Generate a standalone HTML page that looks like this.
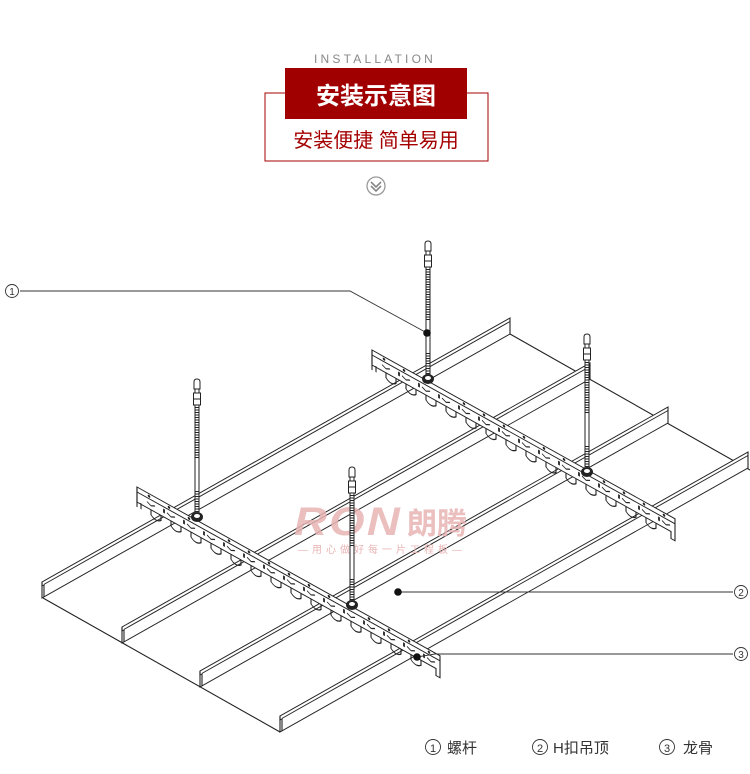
<!DOCTYPE html>
<html><head><meta charset="utf-8"><style>
html,body{margin:0;padding:0;background:#fff;}
body{width:750px;height:774px;overflow:hidden;position:relative;font-family:"Liberation Sans","Noto Sans CJK SC",sans-serif;}
</style></head><body>
<svg width="750" height="774" viewBox="0 0 750 774" xmlns="http://www.w3.org/2000/svg" style="position:absolute;left:0;top:0">
<defs>
<g id="rib" fill="#fff" stroke="#222" stroke-width="1.1">
<polygon points="0,0 468,0 468,16 0,16"/>
<line x1="2" y1="3.5" x2="468" y2="3.5"/>
<polyline points="0,0 0,4 2,4 2,16" fill="none"/>
</g>
<g id="carrier" fill="#fff" stroke="#222" stroke-width="1.1">
<path d="M0,0 L303,0 L303,22 L299,22 L299,15 L0,15 Z"/>
<line x1="0" y1="5" x2="303" y2="5"/>
<path d="M0,0 L0,20 M4,20 L4,14" fill="none"/>
<g fill="none">
<path d="M14,15 v5 q5,5 10,0 v-5"/><path d="M34,15 v5 q5,5 10,0 v-5"/><path d="M54,15 v5 q5,5 10,0 v-5"/><path d="M74,15 v5 q5,5 10,0 v-5"/><path d="M94,15 v5 q5,5 10,0 v-5"/><path d="M114,15 v5 q5,5 10,0 v-5"/><path d="M134,15 v5 q5,5 10,0 v-5"/><path d="M154,15 v5 q5,5 10,0 v-5"/><path d="M174,15 v5 q5,5 10,0 v-5"/><path d="M194,15 v5 q5,5 10,0 v-5"/><path d="M214,15 v5 q5,5 10,0 v-5"/><path d="M234,15 v5 q5,5 10,0 v-5"/><path d="M254,15 v5 q5,5 10,0 v-5"/><path d="M274,15 v5 q5,5 10,0 v-5"/>
<path d="M10,9 l4,2 l4,-2 M30,9 l4,2 l4,-2 M50,9 l4,2 l4,-2 M70,9 l4,2 l4,-2 M90,9 l4,2 l4,-2 M110,9 l4,2 l4,-2 M130,9 l4,2 l4,-2 M150,9 l4,2 l4,-2 M170,9 l4,2 l4,-2 M190,9 l4,2 l4,-2 M210,9 l4,2 l4,-2 M230,9 l4,2 l4,-2 M250,9 l4,2 l4,-2 M270,9 l4,2 l4,-2 M290,9 l4,2 l4,-2"/>
<path d="M27,7 v4 M47,7 v4 M67,7 v4 M87,7 v4 M107,7 v4 M127,7 v4 M147,7 v4 M167,7 v4 M187,7 v4 M207,7 v4 M227,7 v4 M247,7 v4 M267,7 v4 M287,7 v4" stroke-width="1.8"/>
</g>
<g fill="#222" stroke="none">
<circle cx="12" cy="2.5" r="1.3"/><circle cx="32" cy="2.5" r="1.3"/><circle cx="52" cy="2.5" r="1.3"/><circle cx="92" cy="2.5" r="1.3"/><circle cx="112" cy="2.5" r="1.3"/><circle cx="132" cy="2.5" r="1.3"/><circle cx="152" cy="2.5" r="1.3"/><circle cx="172" cy="2.5" r="1.3"/><circle cx="192" cy="2.5" r="1.3"/><circle cx="232" cy="2.5" r="1.3"/><circle cx="252" cy="2.5" r="1.3"/><circle cx="272" cy="2.5" r="1.3"/><circle cx="292" cy="2.5" r="1.3"/>
</g>
</g>
<g id="rod" stroke="#222" stroke-width="1" fill="#fff">
<path d="M-3,10 L-3,3 Q-3,0 0,0 Q3,0 3,3 L3,10 Z"/>
<rect x="-2" y="10" width="4" height="4"/>
<rect x="-3.5" y="14" width="7" height="12"/>
<line x1="-3.5" y1="20" x2="3.5" y2="20"/>
<rect x="-2" y="26" width="4" height="110"/>
<line x1="0" y1="28" x2="0" y2="80" stroke-dasharray="1 1.5" stroke-width="3"/>
<line x1="0" y1="112" x2="0" y2="134" stroke-dasharray="1 1.5" stroke-width="3"/>
<ellipse cx="0" cy="138" rx="5.5" ry="4.5" fill="#222"/>
<ellipse cx="0" cy="137" rx="3" ry="2" fill="#fff" stroke="none"/>
</g>
</defs>

<text x="375" y="63" text-anchor="middle" font-family="Liberation Sans, sans-serif" font-size="12" letter-spacing="3.2" fill="#888">INSTALLATION</text>
<polyline points="285,93 265,93 265,161 488,161 488,93 467,93" fill="none" stroke="#a40000" stroke-width="1"/>
<rect x="285" y="68" width="182" height="51" fill="#a10000"/>
<text x="376" y="104" text-anchor="middle" font-family="Liberation Sans, Noto Sans CJK SC, sans-serif" font-size="24" font-weight="bold" fill="#fff">安装示意图</text>
<text x="376" y="147" text-anchor="middle" font-family="Liberation Sans, Noto Sans CJK SC, sans-serif" font-size="20" fill="#a40000">安装便捷 简单易用</text>
<circle cx="376" cy="186" r="9" fill="#fff" stroke="#999" stroke-width="1.3"/>
<path d="M371,182 l5,5 l5,-5 M371,186 l5,5 l5,-5" fill="none" stroke="#888" stroke-width="1.6"/>

<g stroke="#222" stroke-width="1.1" fill="none">
<line x1="43" y1="598" x2="280" y2="732"/>
<line x1="510" y1="334" x2="750" y2="470"/>
</g>
<use href="#rib" transform="matrix(1,-0.5641,0,1,42,582)"/>
<use href="#rib" transform="matrix(1,-0.5641,0,1,122,627)"/>
<use href="#rib" transform="matrix(1,-0.5641,0,1,200,671)"/>
<use href="#rib" transform="matrix(1,-0.5641,0,1,280,716)"/>

<text x="294" y="535" font-family="Liberation Sans, sans-serif" font-size="40" font-weight="bold" font-style="italic" letter-spacing="2" fill="#e9b5b5" opacity="0.85" textLength="108" lengthAdjust="spacingAndGlyphs">RON</text>
<text x="407" y="534" font-family="Liberation Sans, Noto Sans CJK SC, sans-serif" font-size="30" font-weight="bold" fill="#e9b5b5" opacity="0.85">朗腾</text>
<text x="298" y="553" font-family="Liberation Sans, Noto Sans CJK SC, sans-serif" font-size="10" letter-spacing="4" fill="#e9b5b5">—用心做好每一片工程板—</text>

<use href="#carrier" transform="matrix(1,0.557,0,1,372,350)"/>
<use href="#carrier" transform="matrix(1,0.557,0,1,137,487)"/>

<use href="#rod" transform="translate(428,241)"/>
<use href="#rod" transform="translate(587,334)"/>
<use href="#rod" transform="translate(197,379)"/>
<use href="#rod" transform="translate(352,467)"/>

<g stroke="#333" stroke-width="0.9" fill="none">
<polyline points="20,291 350,291 427,333"/>
<line x1="398" y1="592" x2="733" y2="592"/>
<polyline points="417,657 435,654 733,654"/>
</g>
<circle cx="427" cy="333" r="3.8" fill="#111"/>
<circle cx="398" cy="592" r="3.8" fill="#111"/>
<circle cx="417" cy="657" r="3.8" fill="#111"/>
<g font-family="Liberation Sans, Noto Sans CJK SC, sans-serif" fill="#333">
<circle cx="12" cy="291" r="6.5" fill="none" stroke="#333" stroke-width="0.9"/><text x="12" y="295" font-size="10" text-anchor="middle">1</text>
<circle cx="741" cy="592" r="6.5" fill="none" stroke="#333" stroke-width="0.9"/><text x="741" y="596" font-size="10" text-anchor="middle">2</text>
<circle cx="741" cy="654" r="6.5" fill="none" stroke="#333" stroke-width="0.9"/><text x="741" y="658" font-size="10" text-anchor="middle">3</text>
</g>

<g font-family="Liberation Sans, Noto Sans CJK SC, sans-serif" font-size="15" fill="#333">
<circle cx="433" cy="747" r="7.5" fill="none" stroke="#333" stroke-width="0.9"/><text x="433" y="752" font-size="11" text-anchor="middle">1</text>
<text x="447" y="753">螺杆</text>
<circle cx="540" cy="747" r="7.5" fill="none" stroke="#333" stroke-width="0.9"/><text x="540" y="752" font-size="11" text-anchor="middle">2</text>
<text x="553" y="753">H扣吊顶</text>
<circle cx="667" cy="747" r="7.5" fill="none" stroke="#333" stroke-width="0.9"/><text x="667" y="752" font-size="11" text-anchor="middle">3</text>
<text x="683" y="753">龙骨</text>
</g>
</svg>
</body></html>
